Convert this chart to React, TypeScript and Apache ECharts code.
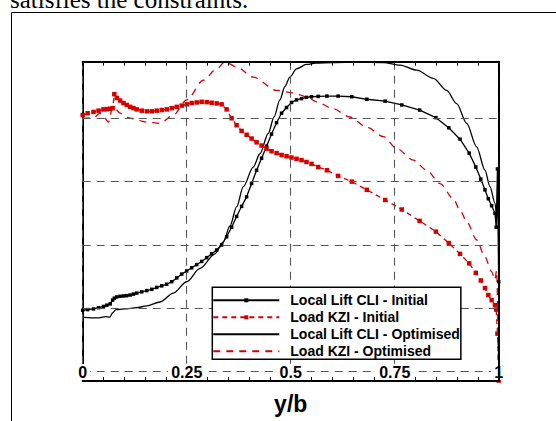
import React, { useEffect, useRef } from 'react';
import * as echarts from 'echarts';

// Spanwise stations (y/b) of the "Initial" distributions (marker positions)
const stations = [
  0, 0.012, 0.026, 0.038, 0.05, 0.058, 0.066, 0.072, 0.076, 0.082,
  0.09, 0.098, 0.106, 0.114, 0.122, 0.13, 0.142, 0.154, 0.166, 0.178,
  0.19, 0.202, 0.214, 0.226, 0.238, 0.25, 0.262, 0.274, 0.286, 0.298,
  0.31, 0.322, 0.334, 0.346, 0.358, 0.37, 0.382, 0.394, 0.406, 0.418,
  0.43, 0.442, 0.454, 0.466, 0.478, 0.49, 0.502, 0.514, 0.526, 0.538,
  0.55, 0.566, 0.587, 0.614, 0.647, 0.683, 0.727, 0.767, 0.81, 0.849,
  0.88, 0.907, 0.929, 0.945, 0.957, 0.967, 0.975, 0.983, 0.991, 0.994,
  0.997, 1.0,
];

const cliInitial = [
  0.97, 0.98, 0.99, 1.01, 1.03, 1.05, 1.07, 1.13, 1.16, 1.18,
  1.19, 1.195, 1.2, 1.21, 1.225, 1.24, 1.26, 1.28, 1.3, 1.33,
  1.355, 1.38, 1.42, 1.48, 1.54, 1.59, 1.64, 1.69, 1.74, 1.8,
  1.86, 1.92, 2.0, 2.13, 2.28, 2.45, 2.61, 2.76, 2.97, 3.18,
  3.37, 3.56, 3.75, 3.93, 4.08, 4.17, 4.25, 4.29, 4.31, 4.33,
  4.34, 4.345, 4.35, 4.35, 4.34, 4.3, 4.27, 4.21, 4.13, 4.01,
  3.85, 3.67, 3.45, 3.23, 3.04, 2.87, 2.73, 2.62, 2.5, 2.28,
  3.2, 1.42,
];

const kziInitial = [
  4.05, 4.08, 4.1, 4.12, 4.14, 4.145, 4.15, 4.16, 4.38, 4.32,
  4.28, 4.24, 4.21, 4.18, 4.16, 4.14, 4.12, 4.11, 4.11, 4.12,
  4.13, 4.14, 4.16, 4.18, 4.2, 4.22, 4.24, 4.25, 4.26, 4.255,
  4.245, 4.235, 4.22, 4.14, 4.0, 3.89, 3.8, 3.74, 3.68, 3.62,
  3.57, 3.52, 3.48, 3.45, 3.42, 3.4, 3.38, 3.36, 3.34, 3.31,
  3.28, 3.23, 3.18, 3.09, 3.0, 2.87, 2.71, 2.56, 2.38, 2.21,
  2.03, 1.86, 1.71, 1.56, 1.44, 1.32, 1.21, 1.13, 1.05, 0.98,
  0.6, -0.14,
];

const cliOptX = [
  0, 0.02, 0.04, 0.055, 0.065, 0.072, 0.08, 0.1, 0.13, 0.154,
  0.186, 0.218, 0.25, 0.282, 0.318, 0.338, 0.354, 0.37, 0.386, 0.41,
  0.426, 0.446, 0.46, 0.474, 0.486, 0.498, 0.514, 0.538, 0.56, 0.602,
  0.66, 0.723, 0.763, 0.803, 0.843, 0.875, 0.899, 0.923, 0.947, 0.967,
  0.979, 0.991, 0.996, 1.0,
];
const cliOptimised = [
  0.86, 0.85, 0.85, 0.87, 0.86, 0.93, 0.98, 0.99, 1.01, 1.04,
  1.1, 1.24, 1.42, 1.63, 1.86, 2.05, 2.3, 2.6, 2.92, 3.23,
  3.44, 3.76, 4.02, 4.29, 4.5, 4.65, 4.78, 4.85, 4.87, 4.88,
  4.885, 4.88, 4.84, 4.76, 4.63, 4.44, 4.23, 3.92, 3.55, 3.18,
  2.92, 2.66, 2.4, 3.23,
];

const kziOptX = [
  0, 0.026, 0.042, 0.048, 0.062, 0.072, 0.078, 0.09, 0.114, 0.154,
  0.186, 0.218, 0.25, 0.29, 0.322, 0.342, 0.37, 0.41, 0.466, 0.506,
  0.522, 0.546, 0.562, 0.602, 0.642, 0.683, 0.723, 0.755, 0.795, 0.827,
  0.859, 0.891, 0.907, 0.923, 0.947, 0.967, 0.983, 0.991, 0.995, 1.0,
];
const kziOptimised = [
  4.0, 4.01, 4.08, 4.05, 3.94, 4.18, 4.15, 4.08, 4.0, 3.94,
  3.92, 4.05, 4.29, 4.6, 4.78, 4.89, 4.81, 4.65, 4.44, 4.4,
  4.37, 4.31, 4.26, 4.15, 4.02, 3.86, 3.71, 3.52, 3.34, 3.18,
  2.97, 2.73, 2.55, 2.37, 2.08, 1.81, 1.58, 1.45, 1.6, -0.14,
];

const seriesNames = [
  'Local Lift CLI - Initial',
  'Load KZI - Initial',
  'Local Lift CLI - Optimised',
  'Load KZI - Optimised',
];
const xTickLabels = ['0', '0.25', '0.5', '0.75', '1'];
const hGridValues = [0, 1, 2, 3, 4];

const RED = '#d40000';
const GRID = '#555555';
const FONT = '"Liberation Sans", Arial, sans-serif';

const zip = (xs: number[], ys: number[]) => xs.map((x, i) => [x, ys[i]]);

export default function App() {
  const ref = useRef<HTMLDivElement>(null);
  useEffect(() => {
    const chart = echarts.init(ref.current!, undefined, { renderer: 'svg' });
    const axisLine = { show: true, onZero: false, lineStyle: { color: '#000', width: 2 } };
    const ticks = { show: true, inside: true, length: 4, lineStyle: { color: '#000', width: 1 } };
    const minor = { show: true, splitNumber: 5, length: 4, lineStyle: { color: '#000', width: 1 } };
    chart.setOption({
      animation: false,
      backgroundColor: '#fff',
      grid: { left: 82.7, right: 57.3, top: 61.7, bottom: 40, containLabel: false },
      graphic: [
        {
          type: 'rect', silent: true,
          shape: { x: 11.5, y: 12.5, width: 600, height: 500 },
          style: { fill: 'none', stroke: '#000', lineWidth: 1 },
        },
        {
          type: 'text', x: 10, y: -1, silent: true,
          style: { text: 'satisfies the constraints.', font: '25px "Liberation Serif"', fill: '#000', verticalAlign: 'middle' },
        },
      ],
      xAxis: [
        {
          type: 'value', position: 'bottom', min: 0, max: 1, interval: 0.25, z: 5,
          axisLine, axisTick: ticks, minorTick: minor,
          splitLine: { show: true, lineStyle: { color: GRID, type: [8, 6], width: 1.1 } },
          axisLabel: {
            inside: true, margin: 1, fontSize: 16, fontWeight: 'bold', fontFamily: FONT, color: '#000',
            backgroundColor: '#fff', padding: [0, 3], showMinLabel: true, showMaxLabel: true,
            formatter: (v: number) => xTickLabels[Math.round(v / 0.25)],
          },
          name: 'y/b', nameLocation: 'middle', nameGap: 11,
          nameTextStyle: { fontSize: 23, fontWeight: 'bold', fontFamily: FONT, color: '#000' },
        },
        {
          type: 'value', position: 'top', min: 0, max: 1, interval: 0.25, z: 5,
          axisLine, axisTick: ticks, minorTick: minor,
          splitLine: { show: false }, axisLabel: { show: false },
        },
      ],
      yAxis: [
        {
          type: 'value', position: 'left', min: -0.147, max: 4.893,
          axisLine, axisTick: { show: false }, axisLabel: { show: false }, splitLine: { show: false },
        },
        {
          type: 'value', position: 'right', min: -0.147, max: 4.893, z: 6,
          axisLine, axisTick: { show: false }, axisLabel: { show: false }, splitLine: { show: false },
        },
      ],
      legend: {
        orient: 'vertical', left: 212.3, top: 287.3, z: 10,
        padding: [6, 1, 1, 0], itemGap: 3, itemWidth: 66, itemHeight: 5,
        backgroundColor: '#fff', borderColor: '#000', borderWidth: 1.5, borderRadius: 0,
        selectedMode: false,
        textStyle: { fontSize: 14, fontWeight: 'bold', fontFamily: FONT, color: '#000', padding: [0, 0, 0, 6], lineHeight: 14 },
        data: [
          { name: seriesNames[0] },
          { name: seriesNames[1] },
          { name: seriesNames[2], itemStyle: { opacity: 0 } },
          { name: seriesNames[3], itemStyle: { opacity: 0 } },
        ],
      },
      series: [
        {
          type: 'line', name: '__grid', data: [], silent: true, z: 1,
          markLine: {
            silent: true, symbol: ['none', 'none'], animation: false,
            label: { show: false },
            lineStyle: { color: GRID, type: [8, 6], width: 1.1 },
            emphasis: { disabled: true },
            data: hGridValues.map((v) => ({ yAxis: v })),
          },
        },
        {
          type: 'line', name: seriesNames[2], data: zip(cliOptX, cliOptimised), z: 2,
          symbol: 'none', smooth: 0.3, smoothMonotone: 'x', color: '#000',
          lineStyle: { color: '#000', width: 1.3 },
        },
        {
          type: 'line', name: seriesNames[3], data: zip(kziOptX, kziOptimised), z: 2,
          symbol: 'none', smooth: 0.3, smoothMonotone: 'x', color: RED,
          lineStyle: { color: RED, width: 1.3, type: [7, 6] },
        },
        {
          type: 'line', name: seriesNames[0], data: zip(stations, cliInitial), z: 3,
          symbol: 'rect', symbolSize: 3.5, color: '#000',
          itemStyle: { color: '#000' },
          lineStyle: { color: '#000', width: 1.3 },
        },
        {
          type: 'line', name: seriesNames[1], data: zip(stations, kziInitial), z: 3,
          symbol: 'rect', symbolSize: 4.5, color: RED,
          itemStyle: { color: RED },
          lineStyle: { color: RED, width: 1.3, type: [5, 4] },
        },
      ],
    });
    return () => chart.dispose();
  }, []);
  return (
    <div
      ref={ref}
      style={{ position: 'fixed', left: 0, top: 0, width: 556, height: 421, background: '#fff' }}
    />
  );
}
